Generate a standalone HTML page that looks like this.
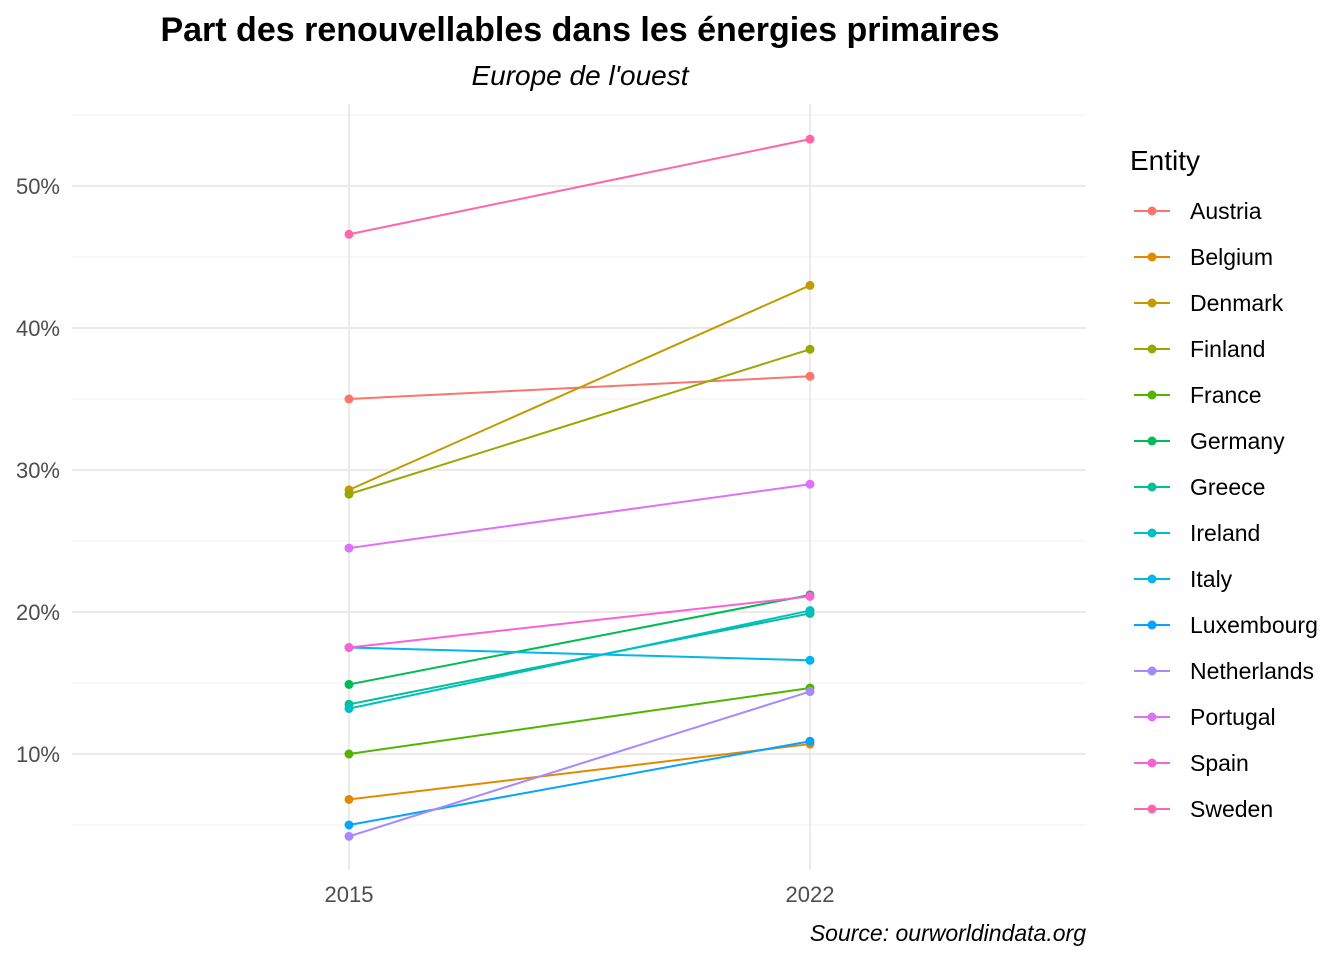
<!DOCTYPE html>
<html><head><meta charset="utf-8"><style>
body{margin:0;background:#fff;font-family:"Liberation Sans",sans-serif}
</style></head><body>
<svg id="chart" width="1344" height="960" xmlns="http://www.w3.org/2000/svg" font-family="Liberation Sans, sans-serif">
<text x="580" y="41" text-anchor="middle" font-size="34" font-weight="bold">Part des renouvellables dans les énergies primaires</text>
<text x="580" y="85" text-anchor="middle" font-size="28" font-style="italic">Europe de l'ouest</text>
<text x="1086" y="941" text-anchor="end" font-size="23" font-style="italic">Source: ourworldindata.org</text>
<g id="grid"></g><g id="marks"></g><g id="legend"></g>
</svg>
<script>
const years=["2015","2022"];
const entities=["Austria","Belgium","Denmark","Finland","France","Germany","Greece","Ireland","Italy","Luxembourg","Netherlands","Portugal","Spain","Sweden"];
const v2015=[35.0,6.8,28.6,28.3,10.0,14.9,13.5,13.2,17.5,5.0,4.2,24.5,17.5,46.6];
const v2022=[36.6,10.7,43.0,38.5,14.65,21.2,19.9,20.1,16.6,10.9,14.4,29.0,21.1,53.3];
const colors=["#F8766D","#E38900","#C49A00","#99A800","#53B400","#00BC56","#00C094","#00BFC4","#00B6EB","#06A4FF","#A58AFF","#DF70F8","#FB61D7","#FF66A8"];
const yTicks=[10,20,30,40,50];
const yMinor=[5,15,25,35,45,55];
const NS="http://www.w3.org/2000/svg";
const y=v=>754-(v-10)*14.2;
const x=i=>349+i*461;
function mk(t,a,p){const e=document.createElementNS(NS,t);for(const k in a)e.setAttribute(k,a[k]);p.appendChild(e);return e;}
const grid=document.getElementById('grid');
yMinor.forEach(t=>{const l=mk('line',{x1:72,x2:1086,y1:y(t),y2:y(t),stroke:'#f0f0f0','stroke-width':1},grid);

});
yTicks.forEach(t=>{const l=mk('line',{x1:72,x2:1086,y1:y(t),y2:y(t),stroke:'#ebebeb','stroke-width':2},grid);


const tx=mk('text',{x:60,y:y(t)+8,'text-anchor':'end','font-size':22,fill:'#4d4d4d'},grid);tx.textContent=t+'%';

});
years.forEach((yr,i)=>{const l=mk('line',{x1:x(i),x2:x(i),y1:104,y2:870,stroke:'#ebebeb','stroke-width':2},grid);


const tx=mk('text',{x:x(i),y:902,'text-anchor':'middle','font-size':22,fill:'#4d4d4d'},grid);tx.textContent=yr;

});
const marks=document.getElementById('marks');
entities.forEach((e,k)=>{const c=colors[k];
const l=mk('line',{x1:x(0),y1:y(v2015[k]),x2:x(1),y2:y(v2022[k]),stroke:c,'stroke-width':2},marks);


[v2015[k],v2022[k]].forEach((v,i)=>{const p=mk('circle',{cx:x(i),cy:y(v),r:4.5,fill:c},marks);

});});
const lg=document.getElementById('legend');
const tt=mk('text',{x:1130,y:170,'font-size':28},lg);tt.textContent='Entity';


entities.forEach((e,k)=>{const yy=211+k*46;const g=mk('g',{},lg);


mk('line',{x1:1134,x2:1170,y1:yy,y2:yy,stroke:colors[k],'stroke-width':2},g);
mk('circle',{cx:1152,cy:yy,r:4.5,fill:colors[k]},g);
const t=mk('text',{x:1190,y:yy+8,'font-size':23},g);t.textContent=e;});
</script>
</body></html>
